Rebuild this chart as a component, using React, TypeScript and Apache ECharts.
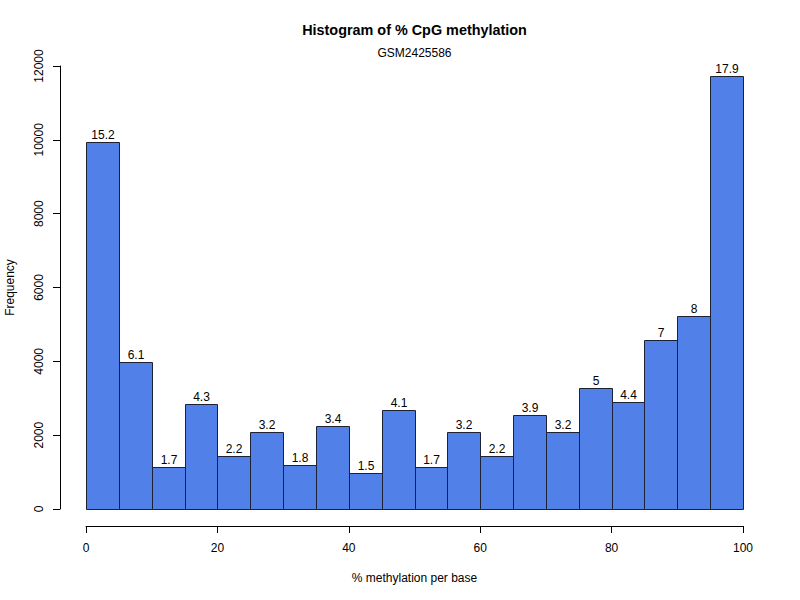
import React, { useEffect, useRef } from "react";
import * as echarts from "echarts";

const binStarts = [0, 5, 10, 15, 20, 25, 30, 35, 40, 45, 50, 55, 60, 65, 70, 75, 80, 85, 90, 95];
const binWidth = 5;
const counts = [9950, 3975, 1130, 2840, 1425, 2075, 1180, 2250, 975, 2685, 1140, 2080, 1425, 2540, 2090, 3290, 2910, 4590, 5215, 11720];
const percentLabels = [15.2, 6.1, 1.7, 4.3, 2.2, 3.2, 1.8, 3.4, 1.5, 4.1, 1.7, 3.2, 2.2, 3.9, 3.2, 5, 4.4, 7, 8, 17.9];
const xTicks = { min: 0, max: 100, interval: 20 };
const yTicks = { min: 0, max: 12000, interval: 2000 };

const FONT = "'Liberation Sans', Arial, Helvetica, sans-serif";

export default function App() {
  const ref = useRef<HTMLDivElement>(null);
  useEffect(() => {
    if (!ref.current) return;
    const chart = echarts.init(ref.current, null, { renderer: "svg" });
    const data = binStarts.map((s, i) => [s, s + binWidth, counts[i], percentLabels[i]]);
    chart.setOption({
      animation: false,
      backgroundColor: "#ffffff",
      textStyle: { fontFamily: FONT },
      grid: { left: 86, right: 57, top: 66, bottom: 91, containLabel: false, outerBoundsMode: "none" },
      graphic: [
        {
          type: "text",
          x: 414.5,
          y: 30,
          style: {
            text: "Histogram of % CpG methylation",
            align: "center",
            verticalAlign: "middle",
            fontFamily: FONT,
            fontSize: 14.4,
            fontWeight: "bold",
            fill: "#000",
          },
        },
        {
          type: "text",
          x: 414.5,
          y: 53,
          style: {
            text: "GSM2425586",
            align: "center",
            verticalAlign: "middle",
            fontFamily: FONT,
            fontSize: 12,
            fill: "#000",
          },
        },
      ],
      xAxis: {
        type: "value",
        min: xTicks.min,
        max: xTicks.max,
        interval: xTicks.interval,
        offset: 17,
        name: "% methylation per base",
        nameLocation: "middle",
        nameGap: 46,
        nameTextStyle: { color: "#000", fontSize: 12, fontFamily: FONT },
        axisLine: { show: true, onZero: false, lineStyle: { color: "#000", width: 1 } },
        axisTick: { show: true, length: 7, lineStyle: { color: "#000" } },
        axisLabel: { color: "#000", fontSize: 12, margin: 16, fontFamily: FONT, formatter: (v: number) => String(v) },
        splitLine: { show: false },
      },
      yAxis: {
        type: "value",
        min: yTicks.min,
        max: yTicks.max,
        interval: yTicks.interval,
        offset: 26,
        name: "Frequency",
        nameLocation: "middle",
        nameRotate: 90,
        nameGap: 44,
        nameTextStyle: { color: "#000", fontSize: 12, fontFamily: FONT },
        axisLine: { show: true, onZero: false, lineStyle: { color: "#000", width: 1 } },
        axisTick: { show: true, length: 7, lineStyle: { color: "#000" } },
        axisLabel: { color: "#000", fontSize: 12, margin: 15, rotate: 90, fontFamily: FONT, formatter: (v: number) => String(v) },
        splitLine: { show: false },
      },
      series: [
        {
          type: "custom",
          data,
          encode: { x: [0, 1], y: 2 },
          renderItem: (params: any, api: any) => {
            const x0 = api.value(0);
            const x1 = api.value(1);
            const y = api.value(2);
            const lab = api.value(3);
            const pTop = api.coord([x0, y]);
            const pBot = api.coord([x1, 0]);
            const left = Math.round(pTop[0]) + 0.5;
            const right = Math.round(pBot[0]) + 0.5;
            const top = Math.round(pTop[1]) + 0.5;
            const bottom = Math.round(pBot[1]) + 0.5;
            return {
              type: "group",
              children: [
                {
                  type: "rect",
                  shape: { x: left, y: top, width: right - left, height: bottom - top },
                  style: { fill: "#5181E8", stroke: "#1c2233", lineWidth: 1 },
                },
                {
                  type: "text",
                  style: {
                    text: String(lab),
                    x: (left + right) / 2,
                    y: top - 2,
                    align: "center",
                    verticalAlign: "bottom",
                    fontFamily: FONT,
                    fontSize: 12,
                    fill: "#000000",
                    opacity: 1,
                  },
                },
              ],
            };
          },
        },
      ],
    });
    return () => chart.dispose();
  }, []);
  return (
    <div
      ref={ref}
      style={{ position: "fixed", left: 0, top: 0, width: 800, height: 600, background: "#fff" }}
    />
  );
}
